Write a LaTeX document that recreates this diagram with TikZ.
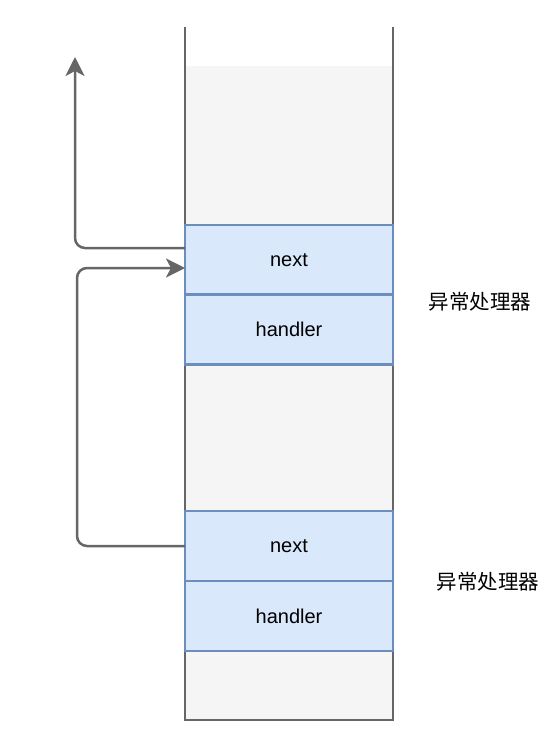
\documentclass[tikz,border=0pt]{standalone}
\usepackage{fontspec}
\setmainfont{Liberation Sans}
\newfontfamily\cjk{Noto Sans CJK SC}
\usetikzlibrary{arrows.meta}

\definecolor{slotfill}{HTML}{DAE8FC}
\definecolor{slotline}{HTML}{6C8EBF}
\definecolor{stackfill}{HTML}{F5F5F5}
\definecolor{wallgray}{HTML}{666666}

\tikzset{
  slot/.style={draw=slotline, fill=slotfill, line width=2.5pt, minimum width=208pt,
    minimum height=70pt, inner sep=0pt, outer sep=0pt, font=\fontsize{20}{24}\selectfont},
  wall/.style={draw=wallgray, line width=2.5pt},
  link/.style={draw=wallgray, line width=2.5pt, rounded corners=10pt,
    -{Stealth[length=19pt,width=19pt,inset=5pt]}},
  tag/.style={font=\cjk\fontsize{20.5}{24}\selectfont}
}

\begin{document}
\begin{tikzpicture}[x=1pt,y=-1pt]
\useasboundingbox (0,0) rectangle (559,729);
% the stack
\fill [stackfill] (185,66) rectangle (393,720);
\draw [wall] (185,27) -- (185,720) -- (393,720) -- (393,27);
% two handler frames
\node [slot] (next1) at (289,260) {next};
\node [slot] (handler1) at (289,329.5) {handler};
\node [slot] (next2) at (289,546) {next};
\node [slot] (handler2) at (289,616) {handler};
\node [tag] (tag1) at (480,302) {异常处理器};
\node [tag] (tag2) at (488,582) {异常处理器};
% links
\coordinate (top) at (75,57);
\draw [link] ([yshift=12pt]next1.west) -| (top);
\draw [link] (next2.west) -- (77,546) -- (77,268) -- ([yshift=-8pt]next1.west);
\end{tikzpicture}
\end{document}
